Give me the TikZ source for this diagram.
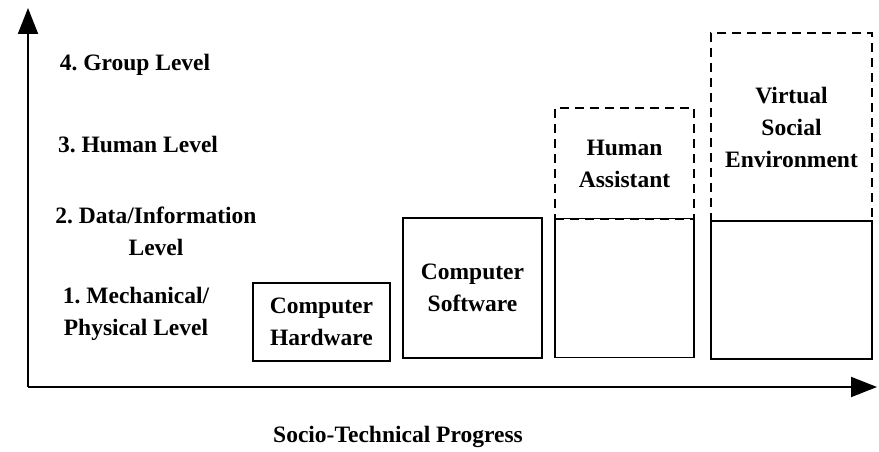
\documentclass[tikz,border=0pt]{standalone}
\usepackage{fontspec}
\setmainfont{Liberation Serif}
\usepackage{tikz}
\usetikzlibrary{arrows.meta,positioning}

\tikzset{
    lvl/.style={align=center,font=\fontsize{23.5}{32}\selectfont\bfseries\frenchspacing},
    blk/.style={lvl,draw=black,line width=1.6pt,inner sep=0pt},
    future/.style={blk,dash pattern=on 9pt off 6pt},
    axis/.style={line width=2pt,-{Triangle[length=26pt,width=20pt]}}
}

\begin{document}
\begin{tikzpicture}[x=1pt,y=1pt]
        \useasboundingbox (0,0) rectangle (879,451);

        \coordinate (o) at (28,64);
        \coordinate (ytop) at (28,443);
        \coordinate (xend) at (877,64);

        \node (l4) at (135,386) [lvl] {4. Group Level};
        \node (l3) at (138,306) [lvl] {3. Human Level};
        \node (l2) at (156,219.5) [lvl] {2. Data/Information\\Level};
        \node (l1) at (136,137) [lvl] {1. Mechanical/\\Physical Level};

        \node (hw) at (321.5,129) [blk,minimum width=137,minimum height=78] {Computer\\Hardware};
        \node (sw) at (472.5,163) [blk,minimum width=139,minimum height=140] {Computer\\Software};
        \node (ha) at (624.5,163) [blk,minimum width=139,minimum height=139] {};
        \node (hatop) at (624.5,287.5) [future,minimum width=139,minimum height=111] {Human\\Assistant};
        \node (vse) at (791.5,161) [blk,minimum width=161,minimum height=138] {};
        \node (vsetop) at (791.5,324) [future,minimum width=161,minimum height=188] {Virtual\\Social\\Environment};

        \node (prog) at (398,14) [lvl] {Socio-Technical Progress};

        \draw[axis] (o) -- (ytop);
        \draw[axis] (o) -- (xend);
    \end{tikzpicture}
\end{document}
